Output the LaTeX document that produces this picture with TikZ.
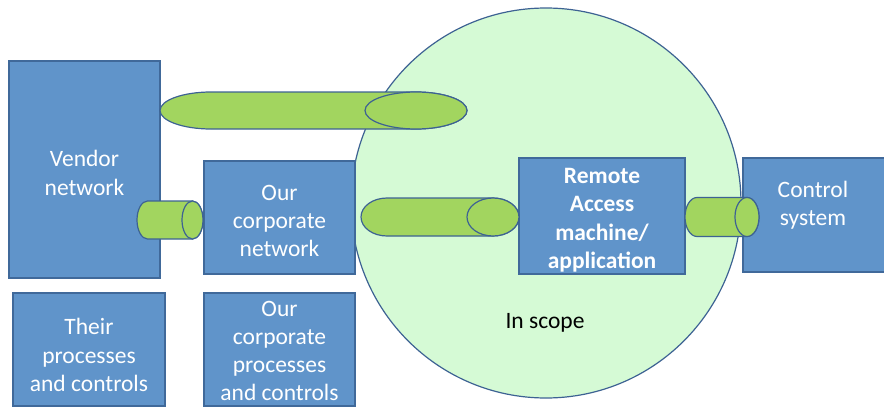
\documentclass[tikz,border=0pt]{standalone}
\usepackage{fontspec}
\setmainfont{Carlito}

\definecolor{boxblue}{HTML}{6094CA}
\definecolor{boxedge}{HTML}{40699A}
\definecolor{pipegreen}{HTML}{A2D55F}
\definecolor{pipeedge}{HTML}{3D6293}
\definecolor{scopegreen}{HTML}{D5FAD5}

% #1 left end, #2 right end, #3 centre y, #4 half height, #5 radius of the ends
\newcommand{\pipeshape}[5]{%
   \draw[pipe] ({#2-#5},{#3-#4}) -- ({#1+#5},{#3-#4})
      arc[start angle=270,end angle=90,x radius=#5,y radius=#4] -- ({#2-#5},{#3+#4})
      arc[start angle=90,end angle=-90,x radius=#5,y radius=#4] -- cycle;
   \draw[pipe] ({#2-#5},#3) ellipse[x radius=#5,y radius=#4];}

\begin{document}
\begin{tikzpicture}[x=1pt,y=-1pt,
        box/.style={draw=boxedge,fill=boxblue,line width=1.2pt,rectangle,inner sep=0pt,outer sep=0pt},
        boxtext/.style={text=white,align=center,inner sep=0pt,font=\fontsize{23.5}{28.3}\selectfont},
        pipe/.style={draw=pipeedge,fill=pipegreen,line width=1.2pt}]
   \useasboundingbox (0,0) rectangle (884,407);
   % scope circle
   \node (scope) [circle,draw=pipeedge,fill=scopegreen,line width=1.2pt,minimum size=390pt,inner sep=0pt] at (546,203) {};
   \node (inscope) [font=\fontsize{23.5}{28}\selectfont] at (545,323) {In scope};
   % boxes
   \node (vendor) [box,minimum width=151pt,minimum height=217pt] at (84.5,169.5) {};
   \node (corp) [box,minimum width=151pt,minimum height=113pt] at (279.5,217.5) {};
   \node (their) [box,minimum width=152pt,minimum height=113pt] at (89,349.5) {};
   \node (corpproc) [box,minimum width=151pt,minimum height=113pt] at (279.5,349.5) {};
   \node (remote) [box,minimum width=166pt,minimum height=116pt] at (602,216) {};
   \node (ctrl) [box,minimum width=145pt,minimum height=114pt] at (815.5,215) {};
   \node (vendortxt) [boxtext] at (84.5,173) {Vendor\\network};
   \node (corptxt) [boxtext] at (279.5,221) {Our\\corporate\\network};
   \node (theirtxt) [boxtext] at (89,355) {Their\\processes\\and controls};
   \node (corpproctxt) [boxtext] at (279.5,351) {Our\\corporate\\processes\\and controls};
   \node (remotetxt) [boxtext,font=\bfseries\fontsize{23.5}{28.5}\selectfont] at (602,220) {Remote\\Access\\machine/\\application};
   \node (ctrltxt) [boxtext] at (813,205) {Control\\system};
   % connections
   \pipeshape{160}{467}{110.5}{18.5}{51}
   \pipeshape{137}{203}{220}{19}{10.5}
   \pipeshape{361}{519}{217}{19}{26}
   \pipeshape{685}{759}{217}{19.5}{12}
\end{tikzpicture}
\end{document}
